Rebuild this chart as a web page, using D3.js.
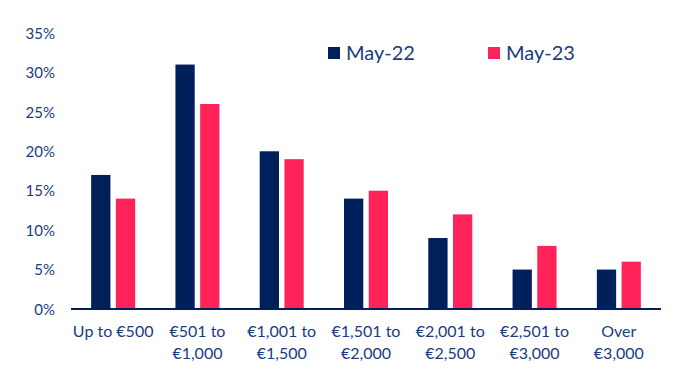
<!DOCTYPE html>
<html><head><meta charset="utf-8">
<script src="https://cdn.jsdelivr.net/npm/d3@7"></script>
<style>body{margin:0;background:#fff}svg{display:block}text{font-family:Lato,"Open Sans",sans-serif}</style>
</head><body><svg id="c" width="695" height="387"></svg>
<script>
const categories = [["Up to €500"],["€501 to","€1,000"],["€1,001 to","€1,500"],["€1,501 to","€2,000"],["€2,001 to","€2,500"],["€2,501 to","€3,000"],["Over","€3,000"]];
const seriesNames = ["May-22","May-23"];
const may22 = [17,31,20,14,9,5,5];
const may23 = [14,26,19,15,12,8,6];
const yTicks = [0,5,10,15,20,25,30,35];
const colors = ["#00205B","#FF2359"];
const textColor = "#1A3C80";

const svg = d3.select("#c");
const m = {l:71, r:34, t:33, b:78};
const W = 695, H = 387;
const x = d3.scaleBand().domain(d3.range(categories.length)).range([m.l, W-m.r]).paddingInner(0).paddingOuter(0);
const y = d3.scaleLinear().domain([0,35]).range([H-m.b, m.t]);
const xs = d3.scaleBand().domain([0,1]).range([x.bandwidth()/2-22, x.bandwidth()/2+22]).paddingInner(0.22).paddingOuter(0);

const data = [may22, may23];
const g = svg.append("g");
categories.forEach((c,i)=>{
  data.forEach((s,j)=>{
    g.append("rect").attr("x", x(i)+xs(j)).attr("width", xs.bandwidth())
      .attr("y", y(s[i])).attr("height", y(0)-y(s[i])).attr("fill", colors[j]);
  });
});
// axis line
svg.append("line").attr("x1", m.l).attr("x2", W-m.r).attr("y1", y(0)).attr("y2", y(0))
  .attr("stroke", "#00205B").attr("stroke-width", 2);

// y labels
const ya = svg.append("g").attr("transform", `translate(${m.l-16},0)`)
  .call(d3.axisLeft(y).tickValues(yTicks).tickSize(0).tickPadding(0).tickFormat(d=>d+"%"));
ya.select(".domain").remove();
ya.selectAll("text").attr("fill", textColor).style("font-size","15px").attr("text-anchor","end").attr("dy","0.35em");

// x labels
const xa = svg.append("g").attr("transform", `translate(0,${y(0)})`)
  .call(d3.axisBottom(x).tickSize(0).tickFormat(""));
xa.select(".domain").remove();
xa.selectAll(".tick").each(function(d){
  const t = d3.select(this).append("text").attr("fill", textColor).style("font-size","16px").attr("text-anchor","middle");
  categories[d].forEach((ln,k)=>{
    t.append("tspan").attr("x",0).attr("y", 28 + k*22).text(ln);
  });
});

// legend
const legX = [328, 488];
seriesNames.forEach((n,j)=>{
  svg.append("rect").attr("x", legX[j]).attr("y", 47).attr("width", 12).attr("height", 12).attr("fill", colors[j]);
  svg.append("text").attr("x", legX[j]+18).attr("y", 60).attr("fill", textColor).style("font-size","20px").text(n);
});
</script></body></html>
